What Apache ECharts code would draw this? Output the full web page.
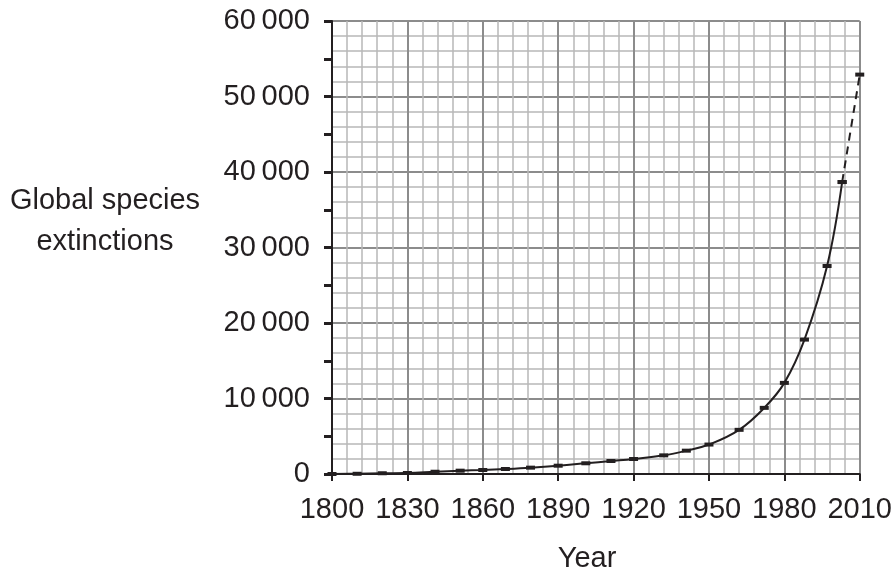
<!DOCTYPE html>
<html>
<head>
<meta charset="utf-8">
<script src="https://cdn.jsdelivr.net/npm/echarts@6/dist/echarts.min.js"></script>
<style>
html,body{margin:0;padding:0;background:#fff;}
#chart{width:895px;height:577px;}
</style>
</head>
<body>
<div id="chart"></div>
<script>
// Observed data (solid part)
const years = [1800,1810,1820,1830,1841,1851,1860,1869,1879,1890,1901,1911,1920,1932,1941,1950,1962,1972,1980,1988,1997,2003];
const extinctions = [0,30,100,130,300,440,530,660,840,1100,1420,1720,1990,2470,3090,3900,5850,8760,12070,17800,27550,38670];
// Projected part (dashed)
const projYears = [2003,2010];
const projExtinctions = [38670,52900];
// Axis labels
const xTicks = [1800,1830,1860,1890,1920,1950,1980,2010];
const yTicks = [0,10000,20000,30000,40000,50000,60000];
const yTitle = 'Global species\nextinctions';
const xTitle = 'Year';

const ink = '#231f20';
const font = '"Liberation Sans", Arial, sans-serif';

function fmt(v){
  const s = String(v);
  if (s.length <= 3) return s;
  return s.slice(0, s.length-3) + '\u2009' + s.slice(s.length-3);
}

const chart = echarts.init(document.getElementById('chart'), null, {renderer:'canvas'});
const solid = years.map((y,i)=>[y, extinctions[i]]);
const proj = projYears.map((y,i)=>[y, projExtinctions[i]]);

chart.setOption({
  animation:false,
  backgroundColor:'#fff',
  grid:{left:332, right:33, top:21, bottom:103},
  xAxis:{
    type:'value', min:xTicks[0], max:xTicks[xTicks.length-1], interval:30,
    axisLine:{show:true, onZero:false, lineStyle:{color:ink, width:2}},
    axisTick:{show:true, length:7, lineStyle:{color:ink, width:2}},
    axisLabel:{color:ink, fontSize:29, fontFamily:font, margin:21, formatter:v=>String(v)},
    splitLine:{show:true, lineStyle:{color:'#8c8c8c', width:2}},
    minorTick:{show:false, splitNumber:5},
    minorSplitLine:{show:true, lineStyle:{color:'#b8b8b8', width:1.5}}
  },
  yAxis:[{
    type:'value', min:yTicks[0], max:yTicks[yTicks.length-1], interval:10000,
    axisLine:{show:true, onZero:false, lineStyle:{color:ink, width:2}},
    axisTick:{show:false},
    axisLabel:{color:ink, fontSize:29, fontFamily:font, margin:22, formatter:v=>fmt(v)},
    splitLine:{show:true, lineStyle:{color:'#8c8c8c', width:2}},
    minorTick:{show:false, splitNumber:5},
    minorSplitLine:{show:true, lineStyle:{color:'#b8b8b8', width:1.5}}
  },{
    type:'value', min:0, max:60000, interval:5000, position:'left',
    axisLine:{show:false},
    axisTick:{show:true, length:8, lineStyle:{color:ink, width:3}},
    axisLabel:{show:false},
    splitLine:{show:false}
  }],
  graphic:[
    {type:'text', x:105, y:221, style:{text:yTitle, font:'29px '+font, fill:ink, textAlign:'center', textVerticalAlign:'middle', lineHeight:41}},
    {type:'text', x:587, y:559, style:{text:xTitle, font:'29px '+font, fill:ink, textAlign:'center', textVerticalAlign:'middle'}}
  ],
  series:[
    {type:'line', data:solid, smooth:0.4,
     symbol:'rect', symbolSize:[9,4], showAllSymbol:true,
     itemStyle:{color:ink}, lineStyle:{color:ink, width:2}, z:5},
    {type:'line', data:proj, smooth:false,
     symbol:'rect', symbolSize:[9,4],
     itemStyle:{color:ink}, lineStyle:{color:ink, width:2, type:[8,6]}, z:5}
  ]
});
</script>
</body>
</html>
